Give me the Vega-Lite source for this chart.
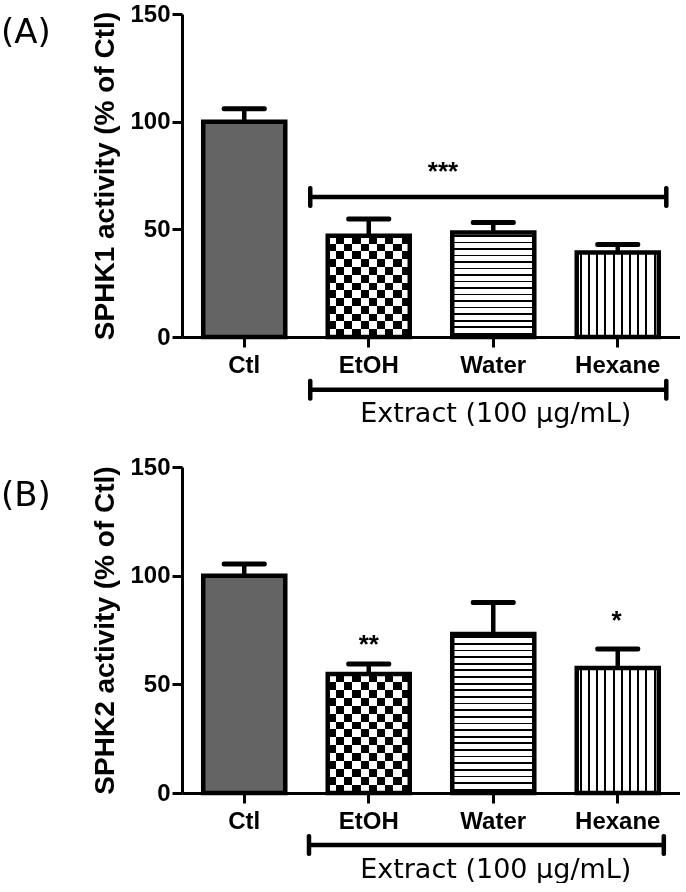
{
  "$schema": "https://vega.github.io/schema/vega-lite/v6.json",
  "padding": {"left": 0, "top": 2, "right": 0, "bottom": 0},
  "background": "white",
  "spacing": 27,
  "config": {
    "view": {"stroke": null},
    "axis": {"domainColor": "black", "domainWidth": 3, "tickColor": "black", "tickWidth": 3, "tickSize": 10, "labelFont": "Liberation Sans", "labelFontWeight": "bold", "labelFontSize": 24, "labelColor": "black", "titleFont": "Liberation Sans", "titleFontWeight": "bold", "titleFontSize": 28, "titleColor": "black", "grid": false}
  },
  "datasets": {
    "sphk1": [
      {"group": "Ctl", "mean": 100, "upper": 106},
      {"group": "EtOH", "mean": 47, "upper": 54.8},
      {"group": "Water", "mean": 48.5, "upper": 53.2},
      {"group": "Hexane", "mean": 39.2, "upper": 42.9}
    ],
    "sphk2": [
      {"group": "Ctl", "mean": 100, "upper": 105.4},
      {"group": "EtOH", "mean": 54.8, "upper": 59.4},
      {"group": "Water", "mean": 73.2, "upper": 87.6},
      {"group": "Hexane", "mean": 57.5, "upper": 66.3}
    ],
    "notes1": [
      {"kind": "bracket", "x1": 1.03, "x2": 3.89, "y": 65},
      {"kind": "bracket", "x1": 1.03, "x2": 3.89, "y": -24.5},
      {"kind": "panel", "x": -1.454, "y": 141.2, "label": "(A)"},
      {"kind": "sig", "x": 2.096, "y": 72.7, "label": "***"},
      {"kind": "extract", "x": 2.52, "y": -39.6, "label": "Extract (100 μg/mL)"}
    ],
    "notes2": [
      {"kind": "bracket", "x1": 1.02, "x2": 3.87, "y": -23.9},
      {"kind": "panel", "x": -1.454, "y": 136.7, "label": "(B)"},
      {"kind": "sig", "x": 1.5, "y": 64.2, "label": "**"},
      {"kind": "sig", "x": 3.49, "y": 75.6, "label": "*"},
      {"kind": "extract", "x": 2.52, "y": -39.0, "label": "Extract (100 μg/mL)"}
    ]
  },
  "vconcat": [
    {
      "width": 498,
      "height": 323,
      "resolve": {"scale": {"x": "independent"}},
      "layer": [
        {
          "data": {"name": "sphk1"},
          "encoding": {
            "x": {"field": "group", "type": "nominal", "scale": {"domain": ["Ctl", "EtOH", "Water", "Hexane"], "paddingInner": 0.341, "paddingOuter": 0.1705}, "axis": {"title": null, "labelAngle": 0, "labelPadding": 6}}
          },
          "layer": [
            {
              "transform": [{"filter": "datum.group === 'Ctl'"}],
              "mark": {"type": "bar", "fill": "#646464", "stroke": "black", "strokeWidth": 4.5, "opacity": 1},
              "encoding": {"y": {"field": "mean", "type": "quantitative", "scale": {"domain": [0, 150], "nice": false}, "title": "SPHK1 activity (% of Ctl)", "axis": {"title": "SPHK1 activity (% of Ctl)", "values": [0, 50, 100, 150], "labelPadding": 2, "titlePadding": 10}}}
            },
            {
              "transform": [{"filter": "datum.group === 'EtOH'"}],
              "mark": {"type": "bar", "strokeWidth": 0, "opacity": 1, "fill": {"gradient": "linear", "x1": 0, "y1": 0, "x2": 1, "y2": 0, "stops": [
                {"offset": 0, "color": "black"}, {"offset": 0.1, "color": "black"}, {"offset": 0.1, "color": "white"}, {"offset": 0.2, "color": "white"},
                {"offset": 0.2, "color": "black"}, {"offset": 0.3, "color": "black"}, {"offset": 0.3, "color": "white"}, {"offset": 0.4, "color": "white"},
                {"offset": 0.4, "color": "black"}, {"offset": 0.5, "color": "black"}, {"offset": 0.5, "color": "white"}, {"offset": 0.6, "color": "white"},
                {"offset": 0.6, "color": "black"}, {"offset": 0.7, "color": "black"}, {"offset": 0.7, "color": "white"}, {"offset": 0.8, "color": "white"},
                {"offset": 0.8, "color": "black"}, {"offset": 0.9, "color": "black"}, {"offset": 0.9, "color": "white"}, {"offset": 1, "color": "white"}]}},
              "encoding": {"y": {"field": "mean", "type": "quantitative", "scale": {"domain": [0, 150], "nice": false}, "title": "SPHK1 activity (% of Ctl)"}}
            },
            {
              "transform": [{"filter": "datum.group === 'EtOH'"}],
              "mark": {"type": "bar", "strokeWidth": 0, "opacity": 1, "blend": "difference", "fill": {"gradient": "linear", "x1": 0, "y1": 0, "x2": 0, "y2": 1, "stops": [
                {"offset": 0, "color": "white"}, {"offset": 0.0769, "color": "white"}, {"offset": 0.0769, "color": "black"}, {"offset": 0.1538, "color": "black"},
                {"offset": 0.1538, "color": "white"}, {"offset": 0.2308, "color": "white"}, {"offset": 0.2308, "color": "black"}, {"offset": 0.3077, "color": "black"},
                {"offset": 0.3077, "color": "white"}, {"offset": 0.3846, "color": "white"}, {"offset": 0.3846, "color": "black"}, {"offset": 0.4615, "color": "black"},
                {"offset": 0.4615, "color": "white"}, {"offset": 0.5385, "color": "white"}, {"offset": 0.5385, "color": "black"}, {"offset": 0.6154, "color": "black"},
                {"offset": 0.6154, "color": "white"}, {"offset": 0.6923, "color": "white"}, {"offset": 0.6923, "color": "black"}, {"offset": 0.7692, "color": "black"},
                {"offset": 0.7692, "color": "white"}, {"offset": 0.8462, "color": "white"}, {"offset": 0.8462, "color": "black"}, {"offset": 0.9231, "color": "black"},
                {"offset": 0.9231, "color": "white"}, {"offset": 1, "color": "white"}]}},
              "encoding": {"y": {"field": "mean", "type": "quantitative", "scale": {"domain": [0, 150], "nice": false}, "title": "SPHK1 activity (% of Ctl)"}}
            },
            {
              "transform": [{"filter": "datum.group === 'EtOH'"}],
              "mark": {"type": "bar", "fill": "white", "fillOpacity": 0, "stroke": "black", "strokeWidth": 4.5, "opacity": 1},
              "encoding": {"y": {"field": "mean", "type": "quantitative", "scale": {"domain": [0, 150], "nice": false}, "title": "SPHK1 activity (% of Ctl)"}}
            },
            {
              "transform": [{"filter": "datum.group === 'Water'"}],
              "mark": {"type": "bar", "stroke": "black", "strokeWidth": 4.5, "opacity": 1, "fill": {"gradient": "linear", "x1": 0, "y1": 0, "x2": 0, "y2": 1, "stops": [
                {"offset": 0, "color": "white"},
                {"offset": 0.02325, "color": "white"}, {"offset": 0.02325, "color": "black"}, {"offset": 0.03925, "color": "black"}, {"offset": 0.03925, "color": "white"},
                {"offset": 0.08575, "color": "white"}, {"offset": 0.08575, "color": "black"}, {"offset": 0.10175, "color": "black"}, {"offset": 0.10175, "color": "white"},
                {"offset": 0.14825, "color": "white"}, {"offset": 0.14825, "color": "black"}, {"offset": 0.16425, "color": "black"}, {"offset": 0.16425, "color": "white"},
                {"offset": 0.21075, "color": "white"}, {"offset": 0.21075, "color": "black"}, {"offset": 0.22675, "color": "black"}, {"offset": 0.22675, "color": "white"},
                {"offset": 0.27325, "color": "white"}, {"offset": 0.27325, "color": "black"}, {"offset": 0.28925, "color": "black"}, {"offset": 0.28925, "color": "white"},
                {"offset": 0.33575, "color": "white"}, {"offset": 0.33575, "color": "black"}, {"offset": 0.35175, "color": "black"}, {"offset": 0.35175, "color": "white"},
                {"offset": 0.39825, "color": "white"}, {"offset": 0.39825, "color": "black"}, {"offset": 0.41425, "color": "black"}, {"offset": 0.41425, "color": "white"},
                {"offset": 0.46075, "color": "white"}, {"offset": 0.46075, "color": "black"}, {"offset": 0.47675, "color": "black"}, {"offset": 0.47675, "color": "white"},
                {"offset": 0.52325, "color": "white"}, {"offset": 0.52325, "color": "black"}, {"offset": 0.53925, "color": "black"}, {"offset": 0.53925, "color": "white"},
                {"offset": 0.58575, "color": "white"}, {"offset": 0.58575, "color": "black"}, {"offset": 0.60175, "color": "black"}, {"offset": 0.60175, "color": "white"},
                {"offset": 0.64825, "color": "white"}, {"offset": 0.64825, "color": "black"}, {"offset": 0.66425, "color": "black"}, {"offset": 0.66425, "color": "white"},
                {"offset": 0.71075, "color": "white"}, {"offset": 0.71075, "color": "black"}, {"offset": 0.72675, "color": "black"}, {"offset": 0.72675, "color": "white"},
                {"offset": 0.77325, "color": "white"}, {"offset": 0.77325, "color": "black"}, {"offset": 0.78925, "color": "black"}, {"offset": 0.78925, "color": "white"},
                {"offset": 0.83575, "color": "white"}, {"offset": 0.83575, "color": "black"}, {"offset": 0.85175, "color": "black"}, {"offset": 0.85175, "color": "white"},
                {"offset": 0.89825, "color": "white"}, {"offset": 0.89825, "color": "black"}, {"offset": 0.91425, "color": "black"}, {"offset": 0.91425, "color": "white"},
                {"offset": 0.96075, "color": "white"}, {"offset": 0.96075, "color": "black"}, {"offset": 0.97675, "color": "black"}, {"offset": 0.97675, "color": "white"},
                {"offset": 1, "color": "white"}]}},
              "encoding": {"y": {"field": "mean", "type": "quantitative", "scale": {"domain": [0, 150], "nice": false}, "title": "SPHK1 activity (% of Ctl)"}}
            },
            {
              "transform": [{"filter": "datum.group === 'Hexane'"}],
              "mark": {"type": "bar", "stroke": "black", "strokeWidth": 4.5, "opacity": 1, "fill": {"gradient": "linear", "x1": 0, "y1": 0, "x2": 1, "y2": 0, "stops": [
                {"offset": 0, "color": "white"},
                {"offset": 0.0375, "color": "white"}, {"offset": 0.0375, "color": "black"}, {"offset": 0.0625, "color": "black"}, {"offset": 0.0625, "color": "white"},
                {"offset": 0.1375, "color": "white"}, {"offset": 0.1375, "color": "black"}, {"offset": 0.1625, "color": "black"}, {"offset": 0.1625, "color": "white"},
                {"offset": 0.2375, "color": "white"}, {"offset": 0.2375, "color": "black"}, {"offset": 0.2625, "color": "black"}, {"offset": 0.2625, "color": "white"},
                {"offset": 0.3375, "color": "white"}, {"offset": 0.3375, "color": "black"}, {"offset": 0.3625, "color": "black"}, {"offset": 0.3625, "color": "white"},
                {"offset": 0.4375, "color": "white"}, {"offset": 0.4375, "color": "black"}, {"offset": 0.4625, "color": "black"}, {"offset": 0.4625, "color": "white"},
                {"offset": 0.5375, "color": "white"}, {"offset": 0.5375, "color": "black"}, {"offset": 0.5625, "color": "black"}, {"offset": 0.5625, "color": "white"},
                {"offset": 0.6375, "color": "white"}, {"offset": 0.6375, "color": "black"}, {"offset": 0.6625, "color": "black"}, {"offset": 0.6625, "color": "white"},
                {"offset": 0.7375, "color": "white"}, {"offset": 0.7375, "color": "black"}, {"offset": 0.7625, "color": "black"}, {"offset": 0.7625, "color": "white"},
                {"offset": 0.8375, "color": "white"}, {"offset": 0.8375, "color": "black"}, {"offset": 0.8625, "color": "black"}, {"offset": 0.8625, "color": "white"},
                {"offset": 0.9375, "color": "white"}, {"offset": 0.9375, "color": "black"}, {"offset": 0.9625, "color": "black"}, {"offset": 0.9625, "color": "white"},
                {"offset": 1, "color": "white"}]}},
              "encoding": {"y": {"field": "mean", "type": "quantitative", "scale": {"domain": [0, 150], "nice": false}, "title": "SPHK1 activity (% of Ctl)"}}
            },
            {
              "mark": {"type": "rule", "color": "black", "strokeWidth": 4.5},
              "encoding": {"y": {"field": "mean", "type": "quantitative", "scale": {"domain": [0, 150], "nice": false}, "title": "SPHK1 activity (% of Ctl)"}, "y2": {"field": "upper"}}
            },
            {
              "mark": {"type": "tick", "color": "black", "size": 45, "thickness": 5, "opacity": 1, "cornerRadius": 2},
              "encoding": {"y": {"field": "upper", "type": "quantitative", "scale": {"domain": [0, 150], "nice": false}, "title": "SPHK1 activity (% of Ctl)"}}
            }
          ]
        },
        {
          "data": {"name": "notes1"},
          "layer": [
            {
              "transform": [{"filter": "datum.kind === 'bracket'"}],
              "mark": {"type": "rule", "color": "black", "strokeWidth": 4.5},
              "encoding": {
                "x": {"field": "x1", "type": "quantitative", "scale": {"domain": [0, 4], "nice": false, "zero": false}, "axis": null},
                "x2": {"field": "x2"},
                "y": {"field": "y", "type": "quantitative", "scale": {"domain": [0, 150], "nice": false}, "title": "SPHK1 activity (% of Ctl)"}
              }
            },
            {
              "transform": [{"filter": "datum.kind === 'bracket'"}],
              "mark": {"type": "tick", "orient": "vertical", "color": "black", "size": 22, "thickness": 4.5, "opacity": 1, "cornerRadius": 2},
              "encoding": {
                "x": {"field": "x1", "type": "quantitative", "scale": {"domain": [0, 4], "nice": false, "zero": false}, "axis": null},
                "y": {"field": "y", "type": "quantitative", "scale": {"domain": [0, 150], "nice": false}, "title": "SPHK1 activity (% of Ctl)"}
              }
            },
            {
              "transform": [{"filter": "datum.kind === 'bracket'"}],
              "mark": {"type": "tick", "orient": "vertical", "color": "black", "size": 22, "thickness": 4.5, "opacity": 1, "cornerRadius": 2},
              "encoding": {
                "x": {"field": "x2", "type": "quantitative", "scale": {"domain": [0, 4], "nice": false, "zero": false}, "axis": null},
                "y": {"field": "y", "type": "quantitative", "scale": {"domain": [0, 150], "nice": false}, "title": "SPHK1 activity (% of Ctl)"}
              }
            },
            {
              "transform": [{"filter": "datum.kind === 'panel'"}],
              "mark": {"type": "text", "font": "DejaVu Sans", "fontSize": 34, "align": "left", "baseline": "middle", "color": "black"},
              "encoding": {
                "x": {"field": "x", "type": "quantitative", "scale": {"domain": [0, 4], "nice": false, "zero": false}, "axis": null},
                "y": {"field": "y", "type": "quantitative", "scale": {"domain": [0, 150], "nice": false}, "title": "SPHK1 activity (% of Ctl)"},
                "text": {"field": "label"}
              }
            },
            {
              "transform": [{"filter": "datum.kind === 'sig'"}],
              "mark": {"type": "text", "font": "Liberation Sans", "fontWeight": "bold", "fontSize": 26, "align": "center", "baseline": "alphabetic", "color": "black"},
              "encoding": {
                "x": {"field": "x", "type": "quantitative", "scale": {"domain": [0, 4], "nice": false, "zero": false}, "axis": null},
                "y": {"field": "y", "type": "quantitative", "scale": {"domain": [0, 150], "nice": false}, "title": "SPHK1 activity (% of Ctl)"},
                "text": {"field": "label"}
              }
            },
            {
              "transform": [{"filter": "datum.kind === 'extract'"}],
              "mark": {"type": "text", "font": "DejaVu Sans", "fontSize": 27, "align": "center", "baseline": "alphabetic", "color": "black"},
              "encoding": {
                "x": {"field": "x", "type": "quantitative", "scale": {"domain": [0, 4], "nice": false, "zero": false}, "axis": null},
                "y": {"field": "y", "type": "quantitative", "scale": {"domain": [0, 150], "nice": false}, "title": "SPHK1 activity (% of Ctl)"},
                "text": {"field": "label"}
              }
            }
          ]
        }
      ]
    },
    {
      "width": 498,
      "height": 326,
      "resolve": {"scale": {"x": "independent"}},
      "layer": [
        {
          "data": {"name": "sphk2"},
          "encoding": {
            "x": {"field": "group", "type": "nominal", "scale": {"domain": ["Ctl", "EtOH", "Water", "Hexane"], "paddingInner": 0.341, "paddingOuter": 0.1705}, "axis": {"title": null, "labelAngle": 0, "labelPadding": 6}}
          },
          "layer": [
            {
              "transform": [{"filter": "datum.group === 'Ctl'"}],
              "mark": {"type": "bar", "fill": "#646464", "stroke": "black", "strokeWidth": 4.5, "opacity": 1},
              "encoding": {"y": {"field": "mean", "type": "quantitative", "scale": {"domain": [0, 150], "nice": false}, "title": "SPHK2 activity (% of Ctl)", "axis": {"title": "SPHK2 activity (% of Ctl)", "values": [0, 50, 100, 150], "labelPadding": 2, "titlePadding": 10}}}
            },
            {
              "transform": [{"filter": "datum.group === 'EtOH'"}],
              "mark": {"type": "bar", "strokeWidth": 0, "opacity": 1, "fill": {"gradient": "linear", "x1": 0, "y1": 0, "x2": 1, "y2": 0, "stops": [
                {"offset": 0, "color": "black"}, {"offset": 0.1, "color": "black"}, {"offset": 0.1, "color": "white"}, {"offset": 0.2, "color": "white"},
                {"offset": 0.2, "color": "black"}, {"offset": 0.3, "color": "black"}, {"offset": 0.3, "color": "white"}, {"offset": 0.4, "color": "white"},
                {"offset": 0.4, "color": "black"}, {"offset": 0.5, "color": "black"}, {"offset": 0.5, "color": "white"}, {"offset": 0.6, "color": "white"},
                {"offset": 0.6, "color": "black"}, {"offset": 0.7, "color": "black"}, {"offset": 0.7, "color": "white"}, {"offset": 0.8, "color": "white"},
                {"offset": 0.8, "color": "black"}, {"offset": 0.9, "color": "black"}, {"offset": 0.9, "color": "white"}, {"offset": 1, "color": "white"}]}},
              "encoding": {"y": {"field": "mean", "type": "quantitative", "scale": {"domain": [0, 150], "nice": false}, "title": "SPHK2 activity (% of Ctl)"}}
            },
            {
              "transform": [{"filter": "datum.group === 'EtOH'"}],
              "mark": {"type": "bar", "strokeWidth": 0, "opacity": 1, "blend": "difference", "fill": {"gradient": "linear", "x1": 0, "y1": 0, "x2": 0, "y2": 1, "stops": [
                {"offset": 0, "color": "white"}, {"offset": 0.0667, "color": "white"}, {"offset": 0.0667, "color": "black"}, {"offset": 0.1333, "color": "black"},
                {"offset": 0.1333, "color": "white"}, {"offset": 0.2, "color": "white"}, {"offset": 0.2, "color": "black"}, {"offset": 0.2667, "color": "black"},
                {"offset": 0.2667, "color": "white"}, {"offset": 0.3333, "color": "white"}, {"offset": 0.3333, "color": "black"}, {"offset": 0.4, "color": "black"},
                {"offset": 0.4, "color": "white"}, {"offset": 0.4667, "color": "white"}, {"offset": 0.4667, "color": "black"}, {"offset": 0.5333, "color": "black"},
                {"offset": 0.5333, "color": "white"}, {"offset": 0.6, "color": "white"}, {"offset": 0.6, "color": "black"}, {"offset": 0.6667, "color": "black"},
                {"offset": 0.6667, "color": "white"}, {"offset": 0.7333, "color": "white"}, {"offset": 0.7333, "color": "black"}, {"offset": 0.8, "color": "black"},
                {"offset": 0.8, "color": "white"}, {"offset": 0.8667, "color": "white"}, {"offset": 0.8667, "color": "black"}, {"offset": 0.9333, "color": "black"},
                {"offset": 0.9333, "color": "white"}, {"offset": 1, "color": "white"}]}},
              "encoding": {"y": {"field": "mean", "type": "quantitative", "scale": {"domain": [0, 150], "nice": false}, "title": "SPHK2 activity (% of Ctl)"}}
            },
            {
              "transform": [{"filter": "datum.group === 'EtOH'"}],
              "mark": {"type": "bar", "fill": "white", "fillOpacity": 0, "stroke": "black", "strokeWidth": 4.5, "opacity": 1},
              "encoding": {"y": {"field": "mean", "type": "quantitative", "scale": {"domain": [0, 150], "nice": false}, "title": "SPHK2 activity (% of Ctl)"}}
            },
            {
              "transform": [{"filter": "datum.group === 'Water'"}],
              "mark": {"type": "bar", "stroke": "black", "strokeWidth": 4.5, "opacity": 1, "fill": {"gradient": "linear", "x1": 0, "y1": 0, "x2": 0, "y2": 1, "stops": [
                {"offset": 0, "color": "white"},
                {"offset": 0.0153, "color": "white"}, {"offset": 0.0153, "color": "black"}, {"offset": 0.0263, "color": "black"}, {"offset": 0.0263, "color": "white"},
                {"offset": 0.057, "color": "white"}, {"offset": 0.057, "color": "black"}, {"offset": 0.068, "color": "black"}, {"offset": 0.068, "color": "white"},
                {"offset": 0.0987, "color": "white"}, {"offset": 0.0987, "color": "black"}, {"offset": 0.1097, "color": "black"}, {"offset": 0.1097, "color": "white"},
                {"offset": 0.1403, "color": "white"}, {"offset": 0.1403, "color": "black"}, {"offset": 0.1513, "color": "black"}, {"offset": 0.1513, "color": "white"},
                {"offset": 0.182, "color": "white"}, {"offset": 0.182, "color": "black"}, {"offset": 0.193, "color": "black"}, {"offset": 0.193, "color": "white"},
                {"offset": 0.2237, "color": "white"}, {"offset": 0.2237, "color": "black"}, {"offset": 0.2347, "color": "black"}, {"offset": 0.2347, "color": "white"},
                {"offset": 0.2653, "color": "white"}, {"offset": 0.2653, "color": "black"}, {"offset": 0.2763, "color": "black"}, {"offset": 0.2763, "color": "white"},
                {"offset": 0.307, "color": "white"}, {"offset": 0.307, "color": "black"}, {"offset": 0.318, "color": "black"}, {"offset": 0.318, "color": "white"},
                {"offset": 0.3487, "color": "white"}, {"offset": 0.3487, "color": "black"}, {"offset": 0.3597, "color": "black"}, {"offset": 0.3597, "color": "white"},
                {"offset": 0.3903, "color": "white"}, {"offset": 0.3903, "color": "black"}, {"offset": 0.4013, "color": "black"}, {"offset": 0.4013, "color": "white"},
                {"offset": 0.432, "color": "white"}, {"offset": 0.432, "color": "black"}, {"offset": 0.443, "color": "black"}, {"offset": 0.443, "color": "white"},
                {"offset": 0.4737, "color": "white"}, {"offset": 0.4737, "color": "black"}, {"offset": 0.4847, "color": "black"}, {"offset": 0.4847, "color": "white"},
                {"offset": 0.5153, "color": "white"}, {"offset": 0.5153, "color": "black"}, {"offset": 0.5263, "color": "black"}, {"offset": 0.5263, "color": "white"},
                {"offset": 0.557, "color": "white"}, {"offset": 0.557, "color": "black"}, {"offset": 0.568, "color": "black"}, {"offset": 0.568, "color": "white"},
                {"offset": 0.5987, "color": "white"}, {"offset": 0.5987, "color": "black"}, {"offset": 0.6097, "color": "black"}, {"offset": 0.6097, "color": "white"},
                {"offset": 0.6403, "color": "white"}, {"offset": 0.6403, "color": "black"}, {"offset": 0.6513, "color": "black"}, {"offset": 0.6513, "color": "white"},
                {"offset": 0.682, "color": "white"}, {"offset": 0.682, "color": "black"}, {"offset": 0.693, "color": "black"}, {"offset": 0.693, "color": "white"},
                {"offset": 0.7237, "color": "white"}, {"offset": 0.7237, "color": "black"}, {"offset": 0.7347, "color": "black"}, {"offset": 0.7347, "color": "white"},
                {"offset": 0.7653, "color": "white"}, {"offset": 0.7653, "color": "black"}, {"offset": 0.7763, "color": "black"}, {"offset": 0.7763, "color": "white"},
                {"offset": 0.807, "color": "white"}, {"offset": 0.807, "color": "black"}, {"offset": 0.818, "color": "black"}, {"offset": 0.818, "color": "white"},
                {"offset": 0.8487, "color": "white"}, {"offset": 0.8487, "color": "black"}, {"offset": 0.8597, "color": "black"}, {"offset": 0.8597, "color": "white"},
                {"offset": 0.8903, "color": "white"}, {"offset": 0.8903, "color": "black"}, {"offset": 0.9013, "color": "black"}, {"offset": 0.9013, "color": "white"},
                {"offset": 0.932, "color": "white"}, {"offset": 0.932, "color": "black"}, {"offset": 0.943, "color": "black"}, {"offset": 0.943, "color": "white"},
                {"offset": 0.9737, "color": "white"}, {"offset": 0.9737, "color": "black"}, {"offset": 0.9847, "color": "black"}, {"offset": 0.9847, "color": "white"},
                {"offset": 1, "color": "white"}]}},
              "encoding": {"y": {"field": "mean", "type": "quantitative", "scale": {"domain": [0, 150], "nice": false}, "title": "SPHK2 activity (% of Ctl)"}}
            },
            {
              "transform": [{"filter": "datum.group === 'Hexane'"}],
              "mark": {"type": "bar", "stroke": "black", "strokeWidth": 4.5, "opacity": 1, "fill": {"gradient": "linear", "x1": 0, "y1": 0, "x2": 1, "y2": 0, "stops": [
                {"offset": 0, "color": "white"},
                {"offset": 0.0375, "color": "white"}, {"offset": 0.0375, "color": "black"}, {"offset": 0.0625, "color": "black"}, {"offset": 0.0625, "color": "white"},
                {"offset": 0.1375, "color": "white"}, {"offset": 0.1375, "color": "black"}, {"offset": 0.1625, "color": "black"}, {"offset": 0.1625, "color": "white"},
                {"offset": 0.2375, "color": "white"}, {"offset": 0.2375, "color": "black"}, {"offset": 0.2625, "color": "black"}, {"offset": 0.2625, "color": "white"},
                {"offset": 0.3375, "color": "white"}, {"offset": 0.3375, "color": "black"}, {"offset": 0.3625, "color": "black"}, {"offset": 0.3625, "color": "white"},
                {"offset": 0.4375, "color": "white"}, {"offset": 0.4375, "color": "black"}, {"offset": 0.4625, "color": "black"}, {"offset": 0.4625, "color": "white"},
                {"offset": 0.5375, "color": "white"}, {"offset": 0.5375, "color": "black"}, {"offset": 0.5625, "color": "black"}, {"offset": 0.5625, "color": "white"},
                {"offset": 0.6375, "color": "white"}, {"offset": 0.6375, "color": "black"}, {"offset": 0.6625, "color": "black"}, {"offset": 0.6625, "color": "white"},
                {"offset": 0.7375, "color": "white"}, {"offset": 0.7375, "color": "black"}, {"offset": 0.7625, "color": "black"}, {"offset": 0.7625, "color": "white"},
                {"offset": 0.8375, "color": "white"}, {"offset": 0.8375, "color": "black"}, {"offset": 0.8625, "color": "black"}, {"offset": 0.8625, "color": "white"},
                {"offset": 0.9375, "color": "white"}, {"offset": 0.9375, "color": "black"}, {"offset": 0.9625, "color": "black"}, {"offset": 0.9625, "color": "white"},
                {"offset": 1, "color": "white"}]}},
              "encoding": {"y": {"field": "mean", "type": "quantitative", "scale": {"domain": [0, 150], "nice": false}, "title": "SPHK2 activity (% of Ctl)"}}
            },
            {
              "mark": {"type": "rule", "color": "black", "strokeWidth": 4.5},
              "encoding": {"y": {"field": "mean", "type": "quantitative", "scale": {"domain": [0, 150], "nice": false}, "title": "SPHK2 activity (% of Ctl)"}, "y2": {"field": "upper"}}
            },
            {
              "mark": {"type": "tick", "color": "black", "size": 45, "thickness": 5, "opacity": 1, "cornerRadius": 2},
              "encoding": {"y": {"field": "upper", "type": "quantitative", "scale": {"domain": [0, 150], "nice": false}, "title": "SPHK2 activity (% of Ctl)"}}
            }
          ]
        },
        {
          "data": {"name": "notes2"},
          "layer": [
            {
              "transform": [{"filter": "datum.kind === 'bracket'"}],
              "mark": {"type": "rule", "color": "black", "strokeWidth": 4.5},
              "encoding": {
                "x": {"field": "x1", "type": "quantitative", "scale": {"domain": [0, 4], "nice": false, "zero": false}, "axis": null},
                "x2": {"field": "x2"},
                "y": {"field": "y", "type": "quantitative", "scale": {"domain": [0, 150], "nice": false}, "title": "SPHK2 activity (% of Ctl)"}
              }
            },
            {
              "transform": [{"filter": "datum.kind === 'bracket'"}],
              "mark": {"type": "tick", "orient": "vertical", "color": "black", "size": 22, "thickness": 4.5, "opacity": 1, "cornerRadius": 2},
              "encoding": {
                "x": {"field": "x1", "type": "quantitative", "scale": {"domain": [0, 4], "nice": false, "zero": false}, "axis": null},
                "y": {"field": "y", "type": "quantitative", "scale": {"domain": [0, 150], "nice": false}, "title": "SPHK2 activity (% of Ctl)"}
              }
            },
            {
              "transform": [{"filter": "datum.kind === 'bracket'"}],
              "mark": {"type": "tick", "orient": "vertical", "color": "black", "size": 22, "thickness": 4.5, "opacity": 1, "cornerRadius": 2},
              "encoding": {
                "x": {"field": "x2", "type": "quantitative", "scale": {"domain": [0, 4], "nice": false, "zero": false}, "axis": null},
                "y": {"field": "y", "type": "quantitative", "scale": {"domain": [0, 150], "nice": false}, "title": "SPHK2 activity (% of Ctl)"}
              }
            },
            {
              "transform": [{"filter": "datum.kind === 'panel'"}],
              "mark": {"type": "text", "font": "DejaVu Sans", "fontSize": 34, "align": "left", "baseline": "middle", "color": "black"},
              "encoding": {
                "x": {"field": "x", "type": "quantitative", "scale": {"domain": [0, 4], "nice": false, "zero": false}, "axis": null},
                "y": {"field": "y", "type": "quantitative", "scale": {"domain": [0, 150], "nice": false}, "title": "SPHK2 activity (% of Ctl)"},
                "text": {"field": "label"}
              }
            },
            {
              "transform": [{"filter": "datum.kind === 'sig'"}],
              "mark": {"type": "text", "font": "Liberation Sans", "fontWeight": "bold", "fontSize": 26, "align": "center", "baseline": "alphabetic", "color": "black"},
              "encoding": {
                "x": {"field": "x", "type": "quantitative", "scale": {"domain": [0, 4], "nice": false, "zero": false}, "axis": null},
                "y": {"field": "y", "type": "quantitative", "scale": {"domain": [0, 150], "nice": false}, "title": "SPHK2 activity (% of Ctl)"},
                "text": {"field": "label"}
              }
            },
            {
              "transform": [{"filter": "datum.kind === 'extract'"}],
              "mark": {"type": "text", "font": "DejaVu Sans", "fontSize": 27, "align": "center", "baseline": "alphabetic", "color": "black"},
              "encoding": {
                "x": {"field": "x", "type": "quantitative", "scale": {"domain": [0, 4], "nice": false, "zero": false}, "axis": null},
                "y": {"field": "y", "type": "quantitative", "scale": {"domain": [0, 150], "nice": false}, "title": "SPHK2 activity (% of Ctl)"},
                "text": {"field": "label"}
              }
            }
          ]
        }
      ]
    }
  ]
}
